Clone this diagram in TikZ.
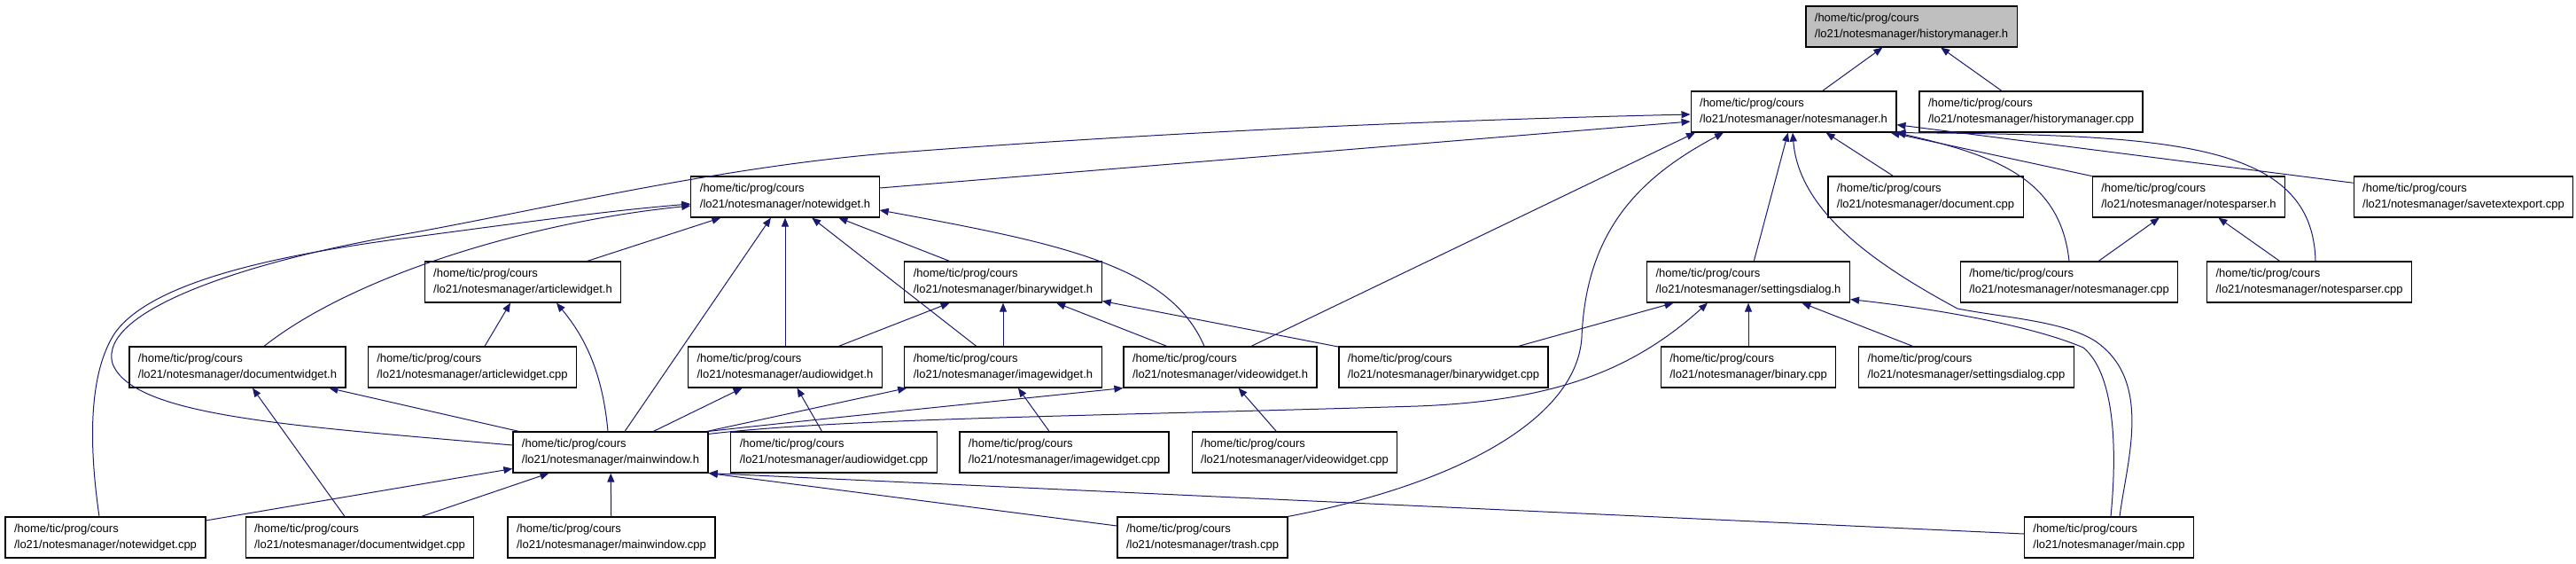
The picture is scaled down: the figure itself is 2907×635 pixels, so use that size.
\documentclass[tikz,border=0pt]{standalone}
\usepackage{fontspec}
\setmainfont{Liberation Sans}
\usetikzlibrary{arrows.meta}
\definecolor{edgeblue}{RGB}{25,25,112}
\definecolor{rootgray}{RGB}{191,191,191}

\begin{document}
\begin{tikzpicture}[
    x=1pt, y=-1pt,
    >={Triangle[length=10pt,width=8pt]},
    font=\fontsize{13}{17.5}\selectfont,
    box/.style={
        draw=black,
        line width=1.2pt,
        minimum height=46pt,
        inner xsep=10pt,
        align=left,
        fill=white
    },
    edge/.style={
        ->,
        edgeblue,
        line width=1pt
    }
]
\useasboundingbox (0,0) rectangle (2907,635);

\node[box, fill=rootgray] (hm) at (2157,30) {/home/tic/prog/cours\\/lo21/notesmanager/historymanager.h};
\node[box] (nm) at (2024,126) {/home/tic/prog/cours\\/lo21/notesmanager/notesmanager.h};
\node[box] (hmcpp) at (2292,126) {/home/tic/prog/cours\\/lo21/notesmanager/historymanager.cpp};
\node[box] (nw) at (886,222) {/home/tic/prog/cours\\/lo21/notesmanager/notewidget.h};
\node[box] (doccpp) at (2173,222) {/home/tic/prog/cours\\/lo21/notesmanager/document.cpp};
\node[box] (npar) at (2470,222) {/home/tic/prog/cours\\/lo21/notesmanager/notesparser.h};
\node[box] (stexp) at (2780,222) {/home/tic/prog/cours\\/lo21/notesmanager/savetextexport.cpp};
\node[box] (aw) at (590,318) {/home/tic/prog/cours\\/lo21/notesmanager/articlewidget.h};
\node[box] (bw) at (1132,318) {/home/tic/prog/cours\\/lo21/notesmanager/binarywidget.h};
\node[box] (sd) at (1973,318) {/home/tic/prog/cours\\/lo21/notesmanager/settingsdialog.h};
\node[box] (nmcpp) at (2335,318) {/home/tic/prog/cours\\/lo21/notesmanager/notesmanager.cpp};
\node[box] (nparcpp) at (2606,318) {/home/tic/prog/cours\\/lo21/notesmanager/notesparser.cpp};
\node[box] (dw) at (268,414) {/home/tic/prog/cours\\/lo21/notesmanager/documentwidget.h};
\node[box] (awcpp) at (533,414) {/home/tic/prog/cours\\/lo21/notesmanager/articlewidget.cpp};
\node[box] (audw) at (886,414) {/home/tic/prog/cours\\/lo21/notesmanager/audiowidget.h};
\node[box] (imgw) at (1132,414) {/home/tic/prog/cours\\/lo21/notesmanager/imagewidget.h};
\node[box] (vidw) at (1377,414) {/home/tic/prog/cours\\/lo21/notesmanager/videowidget.h};
\node[box] (bwcpp) at (1629,414) {/home/tic/prog/cours\\/lo21/notesmanager/binarywidget.cpp};
\node[box] (bincpp) at (1973,414) {/home/tic/prog/cours\\/lo21/notesmanager/binary.cpp};
\node[box] (sdcpp) at (2219,414) {/home/tic/prog/cours\\/lo21/notesmanager/settingsdialog.cpp};
\node[box] (mw) at (689,510) {/home/tic/prog/cours\\/lo21/notesmanager/mainwindow.h};
\node[box] (audcpp) at (941,510) {/home/tic/prog/cours\\/lo21/notesmanager/audiowidget.cpp};
\node[box] (imgcpp) at (1201,510) {/home/tic/prog/cours\\/lo21/notesmanager/imagewidget.cpp};
\node[box] (vidcpp) at (1461,510) {/home/tic/prog/cours\\/lo21/notesmanager/videowidget.cpp};
\node[box] (nwcpp) at (119,606) {/home/tic/prog/cours\\/lo21/notesmanager/notewidget.cpp};
\node[box] (dwcpp) at (406,606) {/home/tic/prog/cours\\/lo21/notesmanager/documentwidget.cpp};
\node[box] (mwcpp) at (690,606) {/home/tic/prog/cours\\/lo21/notesmanager/mainwindow.cpp};
\node[box] (trash) at (1357,606) {/home/tic/prog/cours\\/lo21/notesmanager/trash.cpp};
\node[box] (maincpp) at (2380,606) {/home/tic/prog/cours\\/lo21/notesmanager/main.cpp};

\draw[edge] (nm) -- (hm);
\draw[edge] (hmcpp) -- (hm);
\draw[edge] ([yshift=10pt]nw.east) -- ([yshift=-11pt]nm.west);
\draw[edge] (doccpp) -- (nm);
\draw[edge] (npar) -- (nm);
\draw[edge] (stexp) -- (nm);
\draw[edge] (sd) -- (nm);
\draw[edge] ([xshift=35pt]vidw.north) -- ([xshift=-111pt]nm.south);
\draw[edge] (nmcpp.north) .. controls (2325,200) and (2250,175) .. (nm.south east);
\draw[edge] ([xshift=7pt]nparcpp.north) .. controls (2610,160) and (2450,152) .. (nm.south east);
\draw[edge] ([xshift=12pt]maincpp.north) .. controls (2400,520) and (2430,430) .. (2365,385) .. controls (2330,362) and (2260,358) .. (2209,348) .. controls (2120,300) and (2030,240) .. ([xshift=-1pt]nm.south);
\draw[edge] (trash.north east) .. controls (1650,545) and (1780,470) .. (1785,380) .. controls (1790,260) and (1850,200) .. ([xshift=-79pt]nm.south);
\draw[edge] ([yshift=8pt]mw.west) .. controls (330,480) and (150,470) .. (127,410) .. controls (110,350) and (280,295) .. (446,266) .. controls (600,239) and (800,190) .. (1000,173) .. controls (1300,150) and (1600,136) .. ([yshift=-3pt]nm.west);

\draw[edge] ([xshift=-7pt]nwcpp.north) .. controls (100,500) and (100,420) .. (130,375) .. controls (170,320) and (300,290) .. (446,270) .. controls (560,255) and (680,238) .. ([yshift=-8pt]nw.west);
\draw[edge] ([xshift=30pt]dw.north) .. controls (400,310) and (600,250) .. ([yshift=-10pt]nw.west);
\draw[edge] ([xshift=-18pt]vidw.north) .. controls (1320,300) and (1200,275) .. ([yshift=-15pt]nw.east);
\draw[edge] (aw) -- (nw);
\draw[edge] (mw) -- (nw);
\draw[edge] (audw) -- (nw);
\draw[edge] (imgw) -- (nw);
\draw[edge] (bw) -- (nw);

\draw[edge] (awcpp) -- (aw);
\draw[edge] ([xshift=-3pt]mw.north) .. controls (680,420) and (660,380) .. ([xshift=38pt]aw.south);
\draw[edge] (audw) -- (bw);
\draw[edge] (imgw) -- (bw);
\draw[edge] (vidw) -- (bw);
\draw[edge] (bwcpp) -- (bw);

\draw[edge] (mw) -- (dw);
\draw[edge] (dwcpp) -- (dw);
\draw[edge] (mw) -- (audw);
\draw[edge] (audcpp) -- (audw);
\draw[edge] (mw) -- (imgw);
\draw[edge] (imgcpp) -- (imgw);
\draw[edge] (mw.north east) .. controls (900,475) and (1100,455) .. (vidw.south west);
\draw[edge] (vidcpp) -- (vidw);

\draw[edge] ([yshift=-3pt]mw.north east) .. controls (950,472) and (1200,470) .. (1600,458) .. controls (1750,452) and (1840,420) .. ([xshift=-46pt]sd.south);
\draw[edge] (bwcpp) -- (sd);
\draw[edge] (bincpp) -- (sd);
\draw[edge] (sdcpp) -- (sd);
\draw[edge] ([xshift=2pt]maincpp.north) .. controls (2390,500) and (2385,420) .. (2351,392) .. controls (2300,370) and (2200,350) .. ([yshift=4pt]sd.south east);
\draw[edge] (nmcpp) -- (npar);
\draw[edge] (nparcpp) -- (npar);

\draw[edge] (nwcpp) -- (mw);
\draw[edge] (dwcpp) -- (mw);
\draw[edge] (mwcpp) -- (mw);
\draw[edge] ([yshift=13pt]trash.west) -- (mw.south east);
\draw[edge] ([yshift=4pt]maincpp.west) -- (mw.south east);
\end{tikzpicture}
\end{document}
